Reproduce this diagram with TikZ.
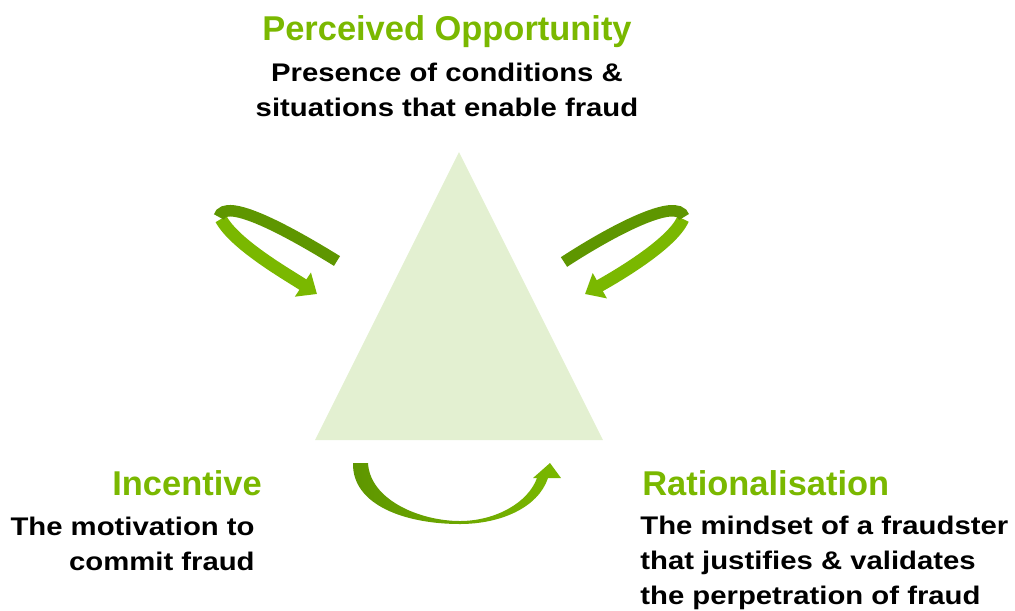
\documentclass[tikz,border=0pt]{standalone}
\usepackage{fontspec}
\setmainfont{Liberation Sans}
\newfontfamily\descfont[FakeStretch=1.15]{Liberation Sans}
\usetikzlibrary{arrows.meta}
\definecolor{fraudgreen}{RGB}{122,184,0}
\definecolor{ribbondark}{RGB}{94,150,0}
\definecolor{ribbonlight}{RGB}{122,184,0}
\definecolor{trifill}{RGB}{227,240,209}
\begin{document}
\begin{tikzpicture}[
    x=0.02cm, y=-0.02cm,
    heading/.style={font=\fontsize{19.6}{23}\selectfont\bfseries, text=fraudgreen, inner sep=0pt},
    desc/.style={font=\descfont\fontsize{14.5}{19.85}\selectfont\bfseries, inner sep=0pt},
    darkband/.style={draw=ribbondark, line width=0.23cm},
    lightband/.style={draw=ribbonlight, line width=0.25cm, -{Triangle[width=0.56cm, length=0.34cm]}},
  ]
    \useasboundingbox (0,0) rectangle (1015,610);
    % Triangle
    \fill[trifill] (459,152) -- (315,440) -- (603,440) -- cycle;
    % Opportunity (top)
    \node[heading, anchor=base] (opp) at (447,40) {Perceived Opportunity};
    \node[desc, align=center, anchor=base] (oppdesc) at (447,116) {Presence of conditions \&\\situations that enable fraud};
    % Incentive (left)
    \node[heading, anchor=base east] (inc) at (262,495) {Incentive};
    \node[desc, align=right, anchor=base east] (incdesc) at (255,570) {The motivation to\\commit fraud};
    % Rationalisation (right)
    \node[heading, anchor=base west] (rat) at (642,495) {Rationalisation};
    \node[desc, align=left, anchor=base west] (ratdesc) at (640,604) {The mindset of a fraudster\\that justifies \& validates\\the perpetration of fraud};
    % Left loop arrow
    \draw[lightband] (221,219) .. controls (235,245) and (290,276) .. (317,294);
    \draw[darkband] (337,261) .. controls (290,232) and (225,196) .. (219,217);
    % Right loop arrow
    \draw[lightband] (683,219) .. controls (672,245) and (610,280) .. (585,294);
    \draw[darkband] (564,262) .. controls (610,232) and (677,196) .. (684,217);
    % Bottom arrow
    \shade[left color=ribbondark, right color=ribbonlight]
      (353,463) -- (368,463)
      .. controls (370,500) and (420,521) .. (460,521)
      .. controls (495,521) and (528,503) .. (537,478)
      -- (533,478) -- (550,463) -- (561,478) -- (548,478)
      .. controls (538,508) and (500,524) .. (460,524)
      .. controls (405,524) and (352,505) .. (353,463) -- cycle;
\end{tikzpicture}
\end{document}
